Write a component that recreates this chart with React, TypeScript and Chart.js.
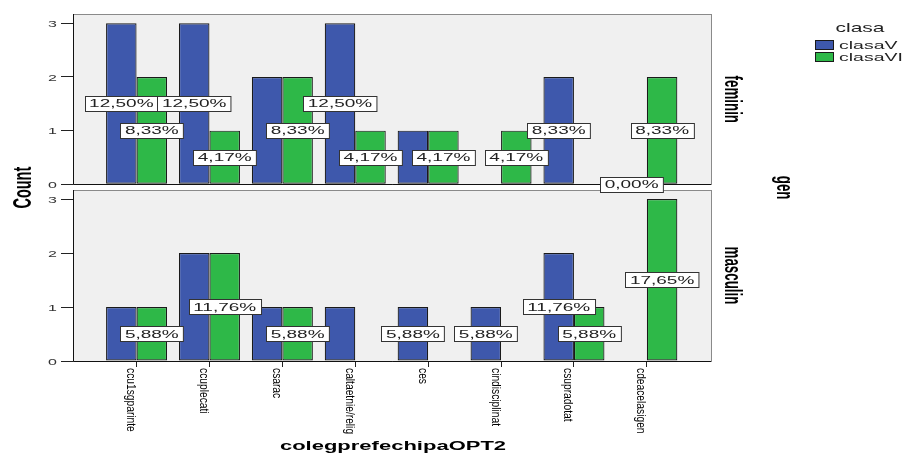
import { useEffect, useRef } from 'react';
import { Chart, registerables } from 'chart.js';

Chart.register(...registerables);

const categories = ['ccu1sgparinte', 'ccuplecati', 'csarac', 'caltaetnie/relig', 'ces', 'cindisciplinat', 'csupradotat', 'cdeacelasigen'];
const seriesNames = ['clasaV', 'clasaVI'];
const panelNames = ['feminin', 'masculin'];
const femininV = [3, 3, 2, 3, 1, 0, 2, 0];
const femininVI = [2, 1, 2, 1, 1, 1, 0, 2];
const masculinV = [1, 2, 1, 1, 1, 1, 2, 0];
const masculinVI = [1, 2, 1, 0, 0, 0, 1, 3];
const femininVLabels = ['12,50%', '12,50%', null, '12,50%', null, null, '8,33%', '0,00%'];
const femininVILabels = ['8,33%', '4,17%', '8,33%', '4,17%', '4,17%', '4,17%', null, '8,33%'];
const masculinVLabels = [null, null, null, null, '5,88%', '5,88%', '11,76%', null];
const masculinVILabels = ['5,88%', '11,76%', '5,88%', null, null, null, '5,88%', '17,65%'];
const yTicks = [0, 1, 2, 3];
const xTitle = 'colegprefechipaOPT2';
const yTitle = 'Count';
const facetTitle = 'gen';
const legendTitle = 'clasa';

const BLUE = '#3E58AC';
const GREEN = '#2EB848';
const EDGE = '#1a1a1a';
const FONT = '"Liberation Sans", Arial, sans-serif';
const SQ = 0.58;

const barLabels = [femininVLabels, femininVILabels, masculinVLabels, masculinVILabels];

function squashText(
  ctx: CanvasRenderingContext2D,
  text: string,
  x: number,
  y: number,
  size: number,
  o: { bold?: boolean; align?: CanvasTextAlign; rotate?: number; sy?: number; color?: string } = {}
) {
  ctx.save();
  ctx.translate(x, y);
  ctx.scale(1, o.sy ?? SQ);
  if (o.rotate) ctx.rotate(o.rotate);
  ctx.font = `${o.bold ? 'bold ' : ''}${size}px ${FONT}`;
  ctx.textAlign = o.align ?? 'left';
  ctx.textBaseline = 'alphabetic';
  ctx.fillStyle = o.color ?? '#000';
  ctx.fillText(text, 0, 0);
  ctx.restore();
}

function getPanels(chart: any) {
  const { chartArea } = chart;
  return ['yF', 'yM'].map((id) => {
    const s = chart.scales[id];
    const top = s.getPixelForValue(yTicks[yTicks.length - 1]) - 9;
    const bottom = s.getPixelForValue(0);
    return { id, l: chartArea.left, r: chartArea.right, t: top, b: bottom };
  });
}

const facetPlugin = {
  id: 'facet',
  beforeDraw(chart: any) {
    const ctx = chart.ctx as CanvasRenderingContext2D;
    ctx.save();
    ctx.fillStyle = '#ffffff';
    ctx.fillRect(0, 0, chart.width, chart.height);
    ctx.fillStyle = '#F0F0F0';
    for (const p of getPanels(chart)) ctx.fillRect(p.l, p.t, p.r - p.l, p.b - p.t);
    ctx.restore();
  },
  afterDatasetsDraw(chart: any) {
    const ctx = chart.ctx as CanvasRenderingContext2D;
    const panels = getPanels(chart);
    // panel frames
    ctx.save();
    for (const p of panels) {
      ctx.strokeStyle = '#8A8A8A';
      ctx.lineWidth = 1;
      ctx.strokeRect(Math.round(p.l) + 0.5, Math.round(p.t) + 0.5, Math.round(p.r - p.l), Math.round(p.b - p.t));
      ctx.strokeStyle = '#111';
      ctx.beginPath();
      ctx.moveTo(Math.round(p.l) + 0.5, Math.round(p.t));
      ctx.lineTo(Math.round(p.l) + 0.5, Math.round(p.b) + 0.5);
      ctx.lineTo(Math.round(p.r), Math.round(p.b) + 0.5);
      ctx.stroke();
    }
    ctx.restore();

    // y tick labels
    for (const p of panels) {
      const s = chart.scales[p.id];
      for (const t of s.ticks) {
        const py = s.getPixelForValue(t.value);
        squashText(ctx, String(t.value), 57, py + 3.6, 16, { align: 'right', color: '#333' });
      }
    }

    // x category labels (rotated clockwise)
    const xs = chart.scales.x;
    categories.forEach((c, i) => {
      const px = xs.getPixelForValue(i);
      squashText(ctx, c, px - 9.5, chart.chartArea.bottom + 7, 12.5, { rotate: Math.PI / 2, sy: 0.82, color: '#000' });
    });

    // percentage labels
    const fs = 19;
    ctx.save();
    ctx.font = `${fs}px ${FONT}`;
    barLabels.forEach((labs, d) => {
      const meta = chart.getDatasetMeta(d);
      labs.forEach((lab, i) => {
        if (!lab) return;
        const el = meta.data[i];
        const cx = el.x;
        const cy = (el.y + el.base) / 2;
        const w = ctx.measureText(lab).width + 9;
        const h = 15;
        const bx = Math.round(cx - w / 2) + 0.5;
        const by = Math.round(cy - h / 2) + 0.5;
        ctx.fillStyle = '#ffffff';
        ctx.fillRect(bx, by, w, h);
        ctx.strokeStyle = '#333';
        ctx.lineWidth = 1;
        ctx.strokeRect(bx, by, w, h);
        squashText(ctx, lab, cx, cy + 3.9, fs, { align: 'center', color: '#222' });
        ctx.font = `${fs}px ${FONT}`;
      });
    });
    ctx.restore();

    // facet titles
    panels.forEach((p, k) => {
      squashText(ctx, panelNames[k], p.r + 14, (p.t + p.b) / 2, 23, { bold: true, rotate: Math.PI / 2, align: 'center' });
    });
    squashText(ctx, facetTitle, 777, (panels[0].t + panels[1].b) / 2, 23, { bold: true, rotate: Math.PI / 2, align: 'center' });

    // y title
    squashText(ctx, yTitle, 31, (panels[0].t + panels[1].b) / 2, 25, { bold: true, rotate: -Math.PI / 2, align: 'center' });

    // x title
    squashText(ctx, xTitle, (chart.chartArea.left + chart.chartArea.right) / 2 + 1, 449.5, 22, { bold: true, align: 'center' });

    // legend
    squashText(ctx, legendTitle, 860, 32, 21, { align: 'center', color: '#222' });
    const colors = [BLUE, GREEN];
    seriesNames.forEach((n, k) => {
      const top = 40 + k * 12;
      ctx.save();
      ctx.fillStyle = colors[k];
      ctx.fillRect(815.5, top + 0.5, 18, 9);
      ctx.strokeStyle = EDGE;
      ctx.lineWidth = 1;
      ctx.strokeRect(815.5, top + 0.5, 18, 9);
      ctx.restore();
      squashText(ctx, n, 839, top + 9, 19.5, { color: '#222' });
    });
  },
};

export default function App() {
  const ref = useRef<HTMLCanvasElement>(null);
  useEffect(() => {
    const toXY = (arr: number[]) => arr.map((v, i) => ({ x: i, y: v }));
    const common = { borderColor: EDGE, borderWidth: 1.2, borderSkipped: false, categoryPercentage: 0.837, barPercentage: 1 };
    const yScale = (weight: number, min: number, max: number) => ({
      type: 'linear',
      position: 'left',
      stack: 'gen',
      stackWeight: 1,
      weight,
      min,
      max,
      grid: { drawOnChartArea: false, drawTicks: true, tickLength: 12, tickColor: '#222' },
      border: { display: false },
      ticks: { display: false },
      afterBuildTicks: (s: any) => {
        s.ticks = yTicks.map((v) => ({ value: v }));
      },
      afterFit: (s: any) => {
        s.width = 60;
      },
    });
    const chart = new Chart(ref.current!, {
      type: 'bar',
      data: {
        datasets: [
          { label: seriesNames[0], data: toXY(femininV), yAxisID: 'yF', stack: 'V', backgroundColor: BLUE, ...common },
          { label: seriesNames[1], data: toXY(femininVI), yAxisID: 'yF', stack: 'VI', backgroundColor: GREEN, ...common },
          { label: seriesNames[0], data: toXY(masculinV), yAxisID: 'yM', stack: 'V', backgroundColor: BLUE, ...common },
          { label: seriesNames[1], data: toXY(masculinVI), yAxisID: 'yM', stack: 'VI', backgroundColor: GREEN, ...common },
        ] as any,
      },
      options: {
        animation: false,
        responsive: false,
        devicePixelRatio: 1,
        layout: { padding: { left: 13, right: 192, top: 14, bottom: 52 } },
        plugins: { legend: { display: false }, tooltip: { enabled: false } },
        scales: {
          x: {
            type: 'linear',
            position: 'bottom',
            offset: false,
            min: -0.872,
            max: 7.88,
            grid: { offset: false, drawOnChartArea: false, drawTicks: true, tickLength: 6, tickColor: '#222' },
            border: { display: false },
            ticks: { display: false },
            afterBuildTicks: (s: any) => {
              s.ticks = categories.map((_, i) => ({ value: i }));
            },
            afterFit: (s: any) => {
              s.height = 40;
            },
          },
          yF: yScale(1, -0.0596, 3.173),
          yM: yScale(0, 0, 3.213),
        } as any,
      },
      plugins: [facetPlugin],
    });
    return () => chart.destroy();
  }, []);
  return (
    <div style={{ position: 'fixed', left: 0, top: 0, width: 903, height: 453, background: '#fff' }}>
      <canvas ref={ref} width={903} height={453} style={{ display: 'block' }} />
    </div>
  );
}
